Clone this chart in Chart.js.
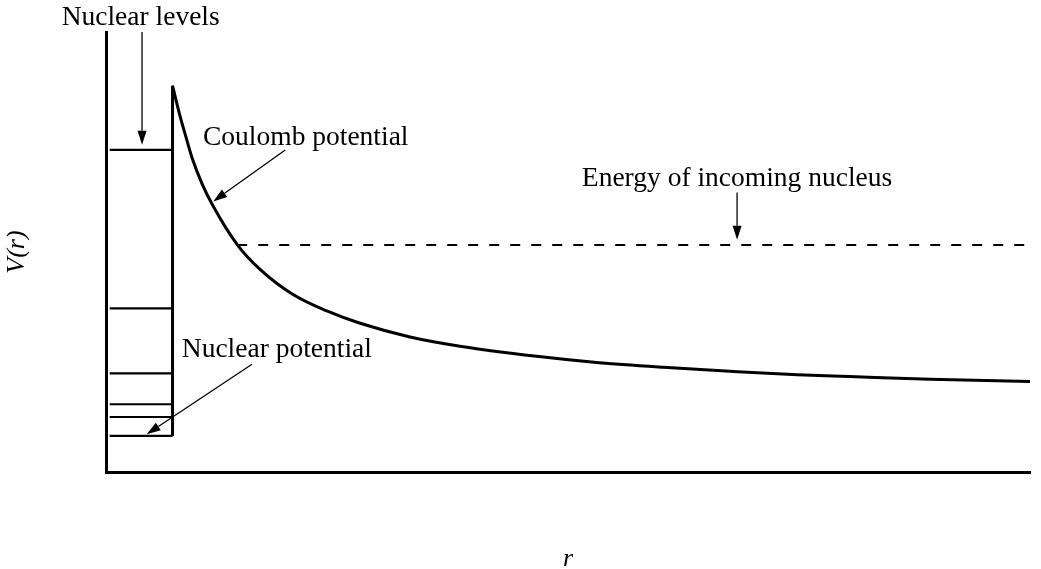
<!DOCTYPE html>
<html>
<head>
<meta charset="utf-8">
<script src="https://cdn.jsdelivr.net/npm/chart.js@4/dist/chart.umd.min.js"></script>
<style>
    html, body { margin: 0; padding: 0; background: #fff; }
    canvas { display: block; }
</style>
</head>
<body>
<canvas id="chart" width="1041" height="569"></canvas>
<script>
// Coulomb barrier outside the well (r, V in arbitrary units)
const coulombR = [7.2, 8.0, 8.55, 9.3, 10.4, 11.5, 14.2, 16.7, 20.2, 23.9, 27.5, 32.9, 38.3, 46.6, 53.1, 60.3, 67.5, 74.8, 80.5, 89.2, 100];
const coulombV = [87.8, 81.0, 76.9, 71.5, 65.5, 60.8, 51.7, 46.0, 40.4, 36.6, 33.8, 30.7, 28.6, 26.3, 24.9, 23.8, 22.9, 22.1, 21.7, 21.1, 20.6];

// square nuclear well
const wellEdge = 7.2;
const wellInner = 0.4;
const wellTop = 87.8;
const levelEnergies = [73.2, 37.2, 22.4, 15.4, 12.5, 8.2];

// incoming energy (dashed line)
const incomingEnergy = 51.6;
const incomingStart = 14.2;

// annotations: [text, x, y] and arrows: [x1, y1, x2, y2], data units
const labels = [
    ['Nuclear levels', -4.8, 101.6],
    ['Coulomb potential', 10.5, 74.4],
    ['Energy of incoming nucleus', 51.5, 64.9],
    ['Nuclear potential', 8.2, 26.1],
];
const arrows = [
    [3.9, 100, 3.9, 74.4],
    [19.4, 73.2, 11.6, 61.5],
    [68.3, 63.5, 68.3, 52.8],
    [15.8, 24.5, 4.4, 8.6],
];

const serif = 'Liberation Serif';

const datasets = [];
datasets.push({
    data: coulombR.map((r, i) => ({ x: r, y: coulombV[i] })),
    borderColor: '#000',
    borderWidth: 3,
    pointRadius: 0,
    cubicInterpolationMode: 'monotone',
});
datasets.push({
    data: [{ x: wellEdge, y: wellTop }, { x: wellEdge, y: levelEnergies[levelEnergies.length - 1] }],
    borderColor: '#000',
    borderWidth: 3,
    pointRadius: 0,
});
levelEnergies.forEach((e) => {
    datasets.push({
        data: [{ x: wellInner, y: e }, { x: wellEdge, y: e }],
        borderColor: '#000',
        borderWidth: 2.2,
        pointRadius: 0,
    });
});
datasets.push({
    data: [{ x: incomingStart, y: incomingEnergy }, { x: 100, y: incomingEnergy }],
    borderColor: '#000',
    borderWidth: 2,
    borderDash: [10, 11],
    pointRadius: 0,
});

const annotate = {
    id: 'annotate',
    afterDatasetsDraw(chart) {
        const { ctx, scales: { x, y } } = chart;
        ctx.save();
        ctx.strokeStyle = '#000';
        ctx.fillStyle = '#000';
        ctx.lineWidth = 1.3;
        arrows.forEach(([x1, y1, x2, y2]) => {
            const ax = x.getPixelForValue(x1), ay = y.getPixelForValue(y1);
            const bx = x.getPixelForValue(x2), by = y.getPixelForValue(y2);
            const ang = Math.atan2(by - ay, bx - ax);
            const len = 14, half = 4.5;
            const hx = bx - len * Math.cos(ang), hy = by - len * Math.sin(ang);
            ctx.beginPath();
            ctx.moveTo(ax, ay);
            ctx.lineTo(hx, hy);
            ctx.stroke();
            ctx.beginPath();
            ctx.moveTo(bx, by);
            ctx.lineTo(hx + half * Math.sin(ang), hy - half * Math.cos(ang));
            ctx.lineTo(hx - half * Math.sin(ang), hy + half * Math.cos(ang));
            ctx.closePath();
            ctx.fill();
        });
        ctx.font = `27.5px "${serif}"`;
        ctx.textBaseline = 'alphabetic';
        ctx.textAlign = 'left';
        labels.forEach(([t, lx, ly]) => {
            ctx.fillText(t, x.getPixelForValue(lx), y.getPixelForValue(ly));
        });
        ctx.restore();
    },
};

new Chart(document.getElementById('chart'), {
    type: 'line',
    data: { datasets },
    plugins: [annotate],
    options: {
        responsive: false,
        animation: false,
        layout: { padding: { left: 0, right: 11, top: 32, bottom: 0 } },
        plugins: { legend: { display: false }, tooltip: { enabled: false } },
        scales: {
            x: {
                type: 'linear',
                min: 0,
                max: 100,
                grid: { display: false, drawTicks: false },
                border: { display: true, color: '#000', width: 3 },
                ticks: { display: false },
                title: {
                    display: true,
                    text: 'r',
                    color: '#000',
                    font: { family: serif, size: 26, style: 'italic', lineHeight: 0.73 },
                    padding: { top: 78, bottom: 0 },
                },
            },
            y: {
                type: 'linear',
                min: 0,
                max: 100,
                grid: { display: false, drawTicks: false },
                border: { display: true, color: '#000', width: 3 },
                ticks: { display: false },
                title: {
                    display: true,
                    text: 'V(r)',
                    color: '#000',
                    font: { family: serif, size: 26, style: 'italic', lineHeight: 1.2 },
                    padding: { top: 2, bottom: 72.8 },
                },
            },
        },
    },
});
</script>
</body>
</html>
